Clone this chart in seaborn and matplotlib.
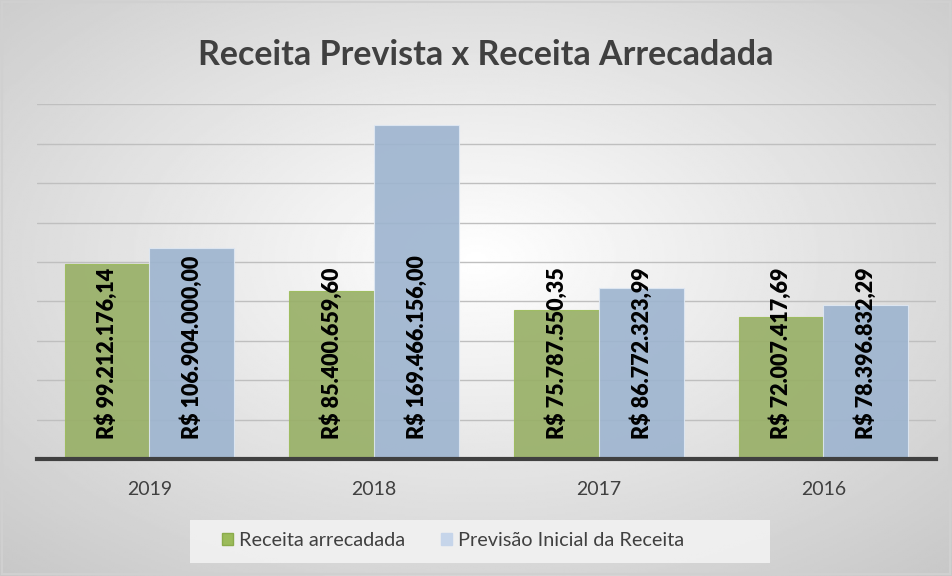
import matplotlib.pyplot as plt
import numpy as np
import pandas as pd
import seaborn as sns

# Data
anos = ['2019', '2018', '2017', '2016']
arrecadada = [99212176.14, 85400659.60, 75787550.35, 72007417.69]
prevista = [106904000.00, 169466156.00, 86772323.99, 78396832.29]
series = ['Receita arrecadada', 'Previsão Inicial da Receita']
rotulos_arrecadada = ['R$ 99.212.176,14', 'R$ 85.400.659,60', 'R$ 75.787.550,35', 'R$ 72.007.417,69']
rotulos_prevista = ['R$ 106.904.000,00', 'R$ 169.466.156,00', 'R$ 86.772.323,99', 'R$ 78.396.832,29']

df = pd.DataFrame({
    'ano': anos * 2,
    'valor': arrecadada + prevista,
    'serie': [series[0]] * 4 + [series[1]] * 4,
})

sns.set_theme(style='white')
plt.rcParams['font.family'] = ['Lato', 'DejaVu Sans']

fig = plt.figure(figsize=(9.52, 5.76), dpi=100)

# Radial gray gradient background
bg = fig.add_axes([0, 0, 1, 1], zorder=-10)
yy, xx = np.mgrid[0:1:300j, 0:1:500j]
r = np.sqrt(((xx - 0.5) / 0.75) ** 2 + ((yy - 0.45) / 0.75) ** 2)
bg.imshow(1 - 0.22 * np.clip(r, 0, 1), cmap='gray', vmin=0, vmax=1,
          aspect='auto', extent=[0, 1, 0, 1])
bg.add_patch(plt.Rectangle((0.002, 0.003), 0.996, 0.994, fill=False,
                           edgecolor='#d0d0d0', linewidth=1.5))
# legend box
bg.add_patch(plt.Rectangle((190 / 952, 13 / 576), 580 / 952, 43 / 576,
                           facecolor='#f2f2f2', edgecolor='none', alpha=0.9))
bg.set_xlim(0, 1)
bg.set_ylim(0, 1)
bg.set_axis_off()

ax = fig.add_axes([0.0389, 0.203, 0.944, 0.616])
ax.patch.set_alpha(0)

sns.barplot(data=df, x='ano', y='valor', hue='serie', order=anos,
            hue_order=series, palette=['#9bbb59', '#95b3d7'],
            width=0.755, alpha=0.9, edgecolor='#dfe8f3', linewidth=0.8,
            legend=False, ax=ax, zorder=3)

# Green bars have no light edge
for p in ax.patches[:4]:
    p.set_edgecolor('#9bbb59')

ax.set_ylim(0, 180e6)
ax.set_yticks(np.arange(0, 180e6 + 1, 20e6))
ax.grid(axis='y', color='#bfbfbf', linewidth=1, zorder=0)
ax.set_axisbelow(True)
ax.tick_params(axis='y', left=False, labelleft=False)
ax.tick_params(axis='x', bottom=False, labelsize=14, labelcolor='#404040', pad=10)
ax.set_xlabel('')
ax.set_ylabel('')
for s in ['top', 'right', 'left']:
    ax.spines[s].set_visible(False)
ax.spines['bottom'].set_color('#404040')
ax.spines['bottom'].set_linewidth(3)
ax.spines['bottom'].set_zorder(5)

# Labels inside the base of each bar
for p, txt in zip(ax.patches[:8], rotulos_arrecadada + rotulos_prevista):
    ax.text(p.get_x() + p.get_width() / 2, 10e6, txt, rotation=90,
            ha='center', va='bottom', fontsize=15.5, fontweight='heavy',
            color='black', zorder=6)

fig.text(0.51, 0.905, 'Receita Prevista x Receita Arrecadada', ha='center',
         va='center', fontsize=24.5, fontweight='bold', color='#404040')

handles = [plt.Rectangle((0, 0), 1, 1, facecolor='#9bbb59', edgecolor='#8aab4a'),
           plt.Rectangle((0, 0), 1, 1, facecolor='#c6d5ea', edgecolor='#c6d5ea')]
leg = fig.legend(handles, series, loc='center', bbox_to_anchor=(0.476, 0.061),
                 ncol=2, frameon=False, fontsize=14.3, handlelength=0.57,
                 handleheight=0.57, handletextpad=0.3, columnspacing=1.8)
for t in leg.get_texts():
    t.set_color('#404040')

fig.savefig('out.png', dpi=100)
